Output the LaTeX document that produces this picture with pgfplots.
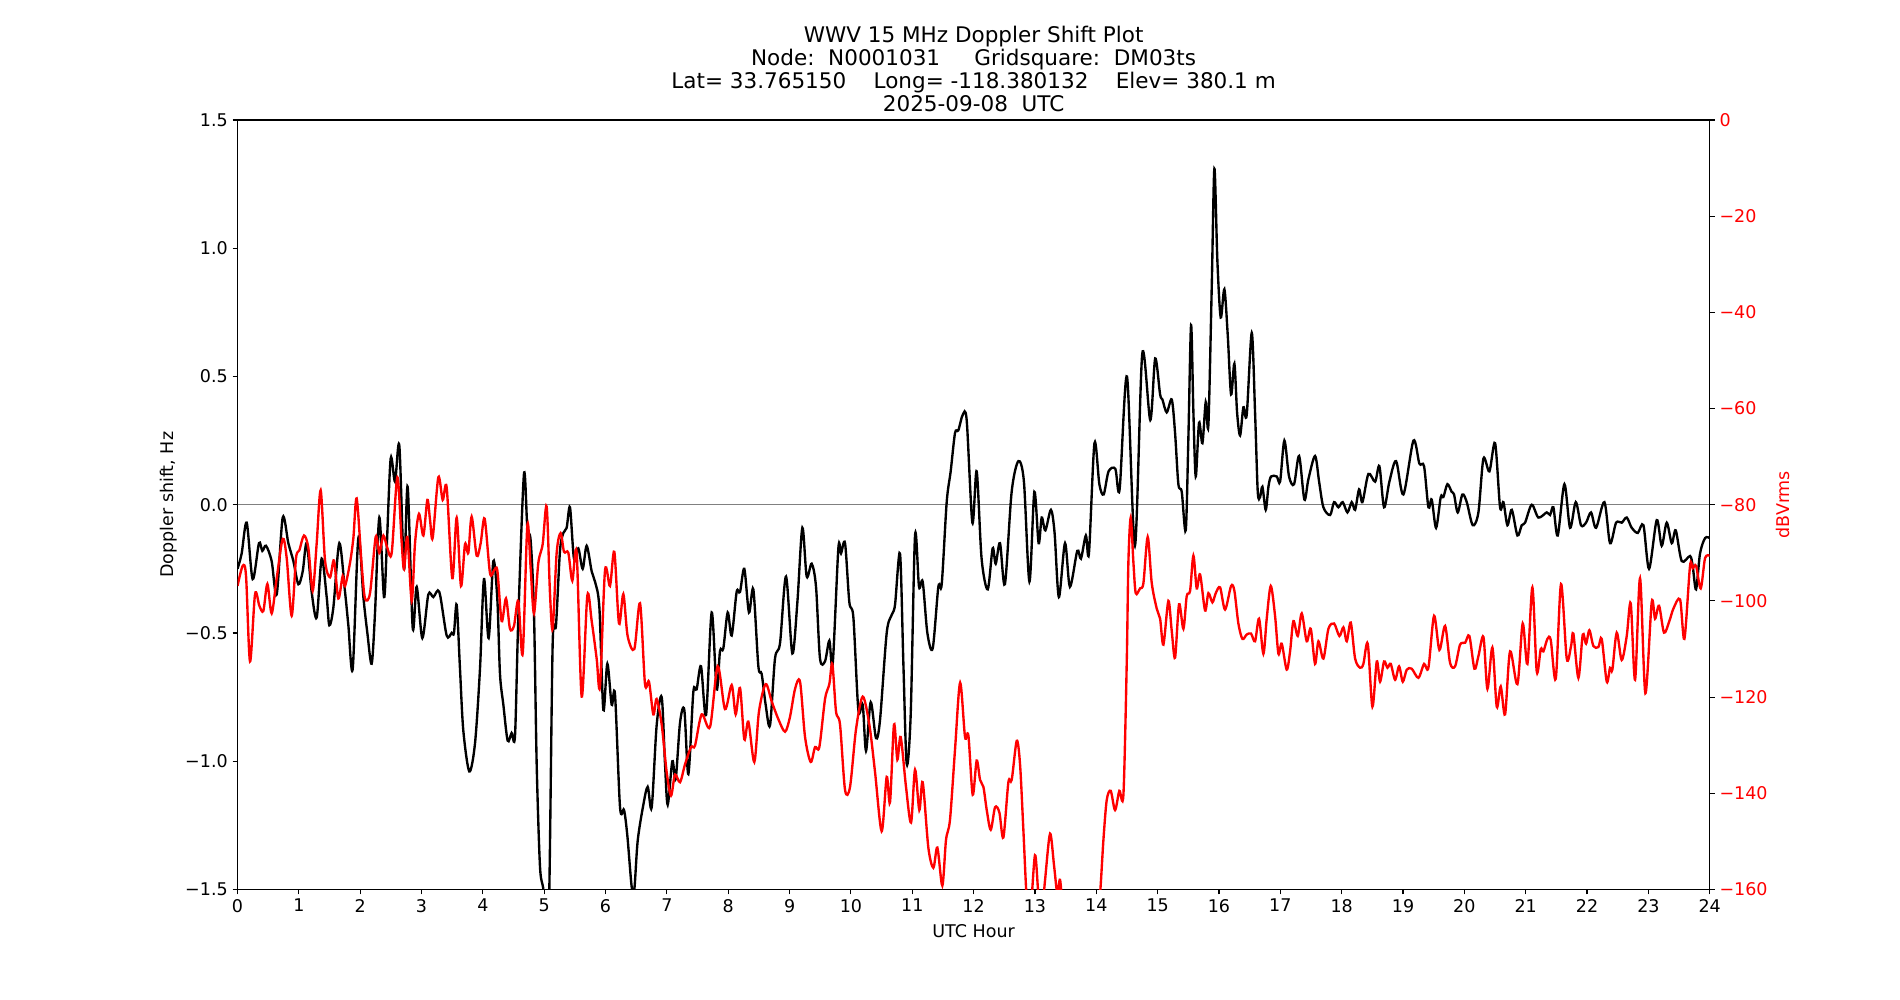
\documentclass[border=0pt]{standalone}
\usepackage{fontspec}
\setmainfont{DejaVu Sans}
\usepackage{pgfplots}
\pgfplotsset{compat=1.18}
\begin{document}
\begin{tikzpicture}
\path[use as bounding box] (0,0) rectangle (1368pt,720pt);
\begin{axis}[
  at={(171pt,79.6pt)}, anchor=south west,
  scale only axis, width=1060pt, height=554pt,
  xmin=0, xmax=24, ymin=-1.5, ymax=1.5,
  xtick={0,1,...,24}, ytick={-1.5,-1,-0.5,0,0.5,1,1.5},
  yticklabels={−1.5,−1.0,−0.5,0.0,0.5,1.0,1.5},
  /pgf/number format/assume math mode=true,
  tick align=outside, major tick length=3.5pt,
  xtick pos=bottom, ytick pos=left,
  axis line style={line width=0.8pt},
  every tick/.style={black, line width=0.8pt},
  tick label style={font=\fontsize{12.6}{15}\selectfont},
  xlabel={UTC Hour}, ylabel={Doppler shift, Hz},
  label style={font=\fontsize{12.6}{15}\selectfont},
  xlabel style={at={(axis description cs:0.5,-0.0536)}, anchor=center},
  ylabel style={at={(axis description cs:-0.0465,0.5)}, anchor=center},
  title={WWV 15 MHz Doppler Shift Plot\\Node:~~N0001031~~~~~Gridsquare:~~DM03ts\\Lat=~33.765150~~~~Long=~-118.380132~~~~Elev=~380.1~m\\2025-09-08~~UTC},
  title style={at={(axis description cs:0.5,1)}, anchor=south, yshift=-0.3pt, inner sep=0pt, align=center, font=\fontsize{15.5}{16.6}\selectfont},
]
\addplot[gray, line width=0.72pt] coordinates {(0,0) (24,0)};
\addplot[black, line width=1.7pt, smooth, tension=0.5] coordinates {
(0.00,-0.25) (0.068,-0.19) (0.15,-0.07) (0.247,-0.29) (0.35,-0.15) (0.405,-0.18) (0.465,-0.16) (0.557,-0.22) (0.639,-0.35) (0.737,-0.05)
(0.829,-0.15) (0.911,-0.22) (0.992,-0.31) (1.063,-0.26) (1.128,-0.15) (1.209,-0.34) (1.291,-0.44) (1.372,-0.21) (1.454,-0.36) (1.497,-0.47)
(1.563,-0.40) (1.66,-0.15) (1.753,-0.34) (1.807,-0.47) (1.878,-0.64) (1.97,-0.13) (2.052,-0.36) (2.117,-0.50) (2.187,-0.62) (2.242,-0.42)
(2.312,-0.05) (2.388,-0.36) (2.432,-0.17) (2.497,0.18) (2.568,0.09) (2.638,0.23) (2.715,-0.25) (2.774,0.07) (2.856,-0.48) (2.921,-0.32)
(3.013,-0.52) (3.111,-0.35) (3.192,-0.36) (3.29,-0.34) (3.41,-0.51) (3.491,-0.50) (3.529,-0.50) (3.573,-0.39) (3.627,-0.64) (3.681,-0.88)
(3.779,-1.04) (3.872,-0.93) (3.953,-0.64) (4.018,-0.29) (4.094,-0.52) (4.171,-0.22) (4.236,-0.37) (4.279,-0.66) (4.334,-0.78) (4.404,-0.92)
(4.469,-0.89) (4.524,-0.90) (4.578,-0.44) (4.67,0.12) (4.725,-0.09) (4.779,-0.14) (4.833,-0.42) (4.877,-1.01) (4.931,-1.41) (4.986,-1.50)
(5.04,-1.65) (5.083,-1.5) (5.138,-0.54) (5.192,-0.47) (5.257,-0.18) (5.312,-0.11) (5.366,-0.09) (5.42,-0.01) (5.485,-0.21) (5.556,-0.17)
(5.627,-0.25) (5.692,-0.16) (5.774,-0.26) (5.828,-0.30) (5.899,-0.40) (5.964,-0.80) (6.029,-0.62) (6.1,-0.78) (6.154,-0.74) (6.236,-1.18)
(6.301,-1.19) (6.355,-1.29) (6.426,-1.49) (6.469,-1.50) (6.524,-1.31) (6.616,-1.17) (6.687,-1.10) (6.752,-1.18) (6.833,-0.86) (6.915,-0.75)
(6.969,-1.01) (7.013,-1.17) (7.089,-1.00) (7.143,-1.07) (7.214,-0.85) (7.284,-0.80) (7.35,-1.05) (7.431,-0.73) (7.485,-0.72) (7.556,-0.63)
(7.638,-0.82) (7.73,-0.42) (7.811,-0.72) (7.866,-0.57) (7.92,-0.56) (7.991,-0.42) (8.056,-0.51) (8.137,-0.34) (8.192,-0.34) (8.262,-0.25)
(8.338,-0.42) (8.409,-0.33) (8.491,-0.63) (8.545,-0.66) (8.61,-0.78) (8.681,-0.86) (8.762,-0.60) (8.844,-0.54) (8.942,-0.28) (9.045,-0.58)
(9.127,-0.38) (9.208,-0.09) (9.279,-0.28) (9.36,-0.23) (9.431,-0.32) (9.496,-0.60) (9.578,-0.61) (9.648,-0.53) (9.703,-0.62) (9.795,-0.17)
(9.838,-0.19) (9.904,-0.15) (9.974,-0.38) (10.04,-0.44) (10.121,-0.80) (10.192,-0.78) (10.246,-0.96) (10.322,-0.77) (10.409,-0.91) (10.474,-0.84)
(10.583,-0.50) (10.664,-0.43) (10.719,-0.39) (10.8,-0.19) (10.855,-0.62) (10.909,-1.01) (10.974,-0.82) (11.045,-0.12) (11.11,-0.32) (11.17,-0.30)
(11.246,-0.50) (11.333,-0.56) (11.425,-0.32) (11.48,-0.31) (11.561,0.01) (11.626,0.13) (11.697,0.28) (11.751,0.29) (11.822,0.35) (11.887,0.33)
(11.98,-0.07) (12.05,0.13) (12.13,-0.21) (12.23,-0.33) (12.31,-0.17) (12.36,-0.23) (12.43,-0.15) (12.51,-0.31) (12.62,0.05) (12.73,0.17)
(12.82,0.09) (12.91,-0.30) (12.99,0.05) (13.06,-0.15) (13.11,-0.05) (13.17,-0.10) (13.26,-0.02) (13.32,-0.11) (13.39,-0.36) (13.49,-0.15)
(13.57,-0.32) (13.69,-0.18) (13.75,-0.21) (13.83,-0.12) (13.88,-0.19) (13.97,0.24) (14.05,0.08) (14.12,0.04) (14.2,0.13) (14.31,0.14)
(14.38,0.06) (14.5,0.50) (14.63,-0.16) (14.75,0.59) (14.88,0.33) (14.96,0.57) (15.04,0.43) (15.078,0.41) (15.148,0.36) (15.23,0.41)
(15.284,0.28) (15.338,0.08) (15.393,0.05) (15.458,-0.10) (15.501,0.26) (15.545,0.70) (15.583,0.36) (15.621,0.11) (15.675,0.32) (15.73,0.24)
(15.784,0.40) (15.827,0.31) (15.882,0.85) (15.925,1.31) (15.974,0.95) (16.028,0.73) (16.088,0.84) (16.143,0.66) (16.197,0.43) (16.251,0.55)
(16.295,0.36) (16.344,0.27) (16.398,0.38) (16.452,0.35) (16.534,0.67) (16.588,0.36) (16.632,0.05) (16.67,0.03) (16.708,0.07) (16.762,-0.02)
(16.806,0.07) (16.849,0.11) (16.941,0.11) (16.996,0.09) (17.066,0.25) (17.142,0.11) (17.224,0.08) (17.306,0.19) (17.392,0.02) (17.458,0.10)
(17.566,0.19) (17.632,0.09) (17.702,-0.01) (17.811,-0.04) (17.876,0.01) (17.947,-0.01) (18.017,0.01) (18.094,-0.03) (18.164,0.01) (18.219,-0.02)
(18.284,0.06) (18.338,0.01) (18.436,0.12) (18.545,0.09) (18.615,0.15) (18.691,-0.01) (18.778,0.09) (18.887,0.17) (19.006,0.04) (19.17,0.25)
(19.267,0.16) (19.343,0.15) (19.414,-0.01) (19.468,0.02) (19.539,-0.09) (19.615,0.03) (19.658,0.03) (19.724,0.08) (19.794,0.05) (19.832,0.04)
(19.892,-0.03) (19.968,0.04) (20.039,0.01) (20.137,-0.08) (20.229,-0.03) (20.311,0.18) (20.408,0.13) (20.501,0.24) (20.582,-0.01) (20.637,0.01)
(20.702,-0.08) (20.773,-0.02) (20.865,-0.12) (20.935,-0.08) (20.99,-0.07) (21.098,0.0) (21.207,-0.05) (21.343,-0.03) (21.397,-0.04) (21.451,-0.01)
(21.522,-0.12) (21.631,0.08) (21.723,-0.09) (21.816,0.01) (21.902,-0.08) (21.984,-0.07) (22.065,-0.03) (22.147,-0.09) (22.283,0.01) (22.375,-0.15)
(22.473,-0.07) (22.565,-0.07) (22.647,-0.05) (22.728,-0.09) (22.826,-0.11) (22.919,-0.08) (23.011,-0.25) (23.136,-0.06) (23.217,-0.16) (23.299,-0.07)
(23.381,-0.15) (23.446,-0.10) (23.544,-0.22) (23.679,-0.20) (23.723,-0.24) (23.777,-0.33) (23.842,-0.19) (23.924,-0.13) (24.0,-0.13)
};
\end{axis}
\begin{axis}[
  at={(171pt,79.6pt)}, anchor=south west,
  scale only axis, width=1060pt, height=554pt,
  xmin=0, xmax=24, ymin=-160, ymax=0,
  axis x line=none, axis y line*=right,
  ytick={-160,-140,...,0},
  yticklabels={−160,−140,−120,−100,−80,−60,−40,−20,0},
  tick align=outside, major tick length=3.5pt,
  axis line style={line width=0.8pt},
  every tick/.style={black, line width=0.8pt},
  tick label style={font=\fontsize{12.6}{15}\selectfont, red},
  ylabel={dBVrms},
  ylabel style={at={(axis description cs:1.05,0.5)}, anchor=center, red, font=\fontsize{12.6}{15}\selectfont},
]
\addplot[red, line width=1.7pt, smooth, tension=0.5] coordinates {
(0.00,-96.9) (0.085,-92.7) (0.139,-94.8) (0.204,-112.6) (0.286,-98.6) (0.356,-101) (0.421,-102.1) (0.487,-96.5) (0.557,-102.6) (0.639,-95.3)
(0.737,-87.1) (0.802,-91.1) (0.883,-103.1) (0.954,-91.1) (1.008,-89.5) (1.084,-86.4) (1.155,-89) (1.226,-97.9) (1.291,-88) (1.356,-77)
(1.427,-91.6) (1.508,-95.1) (1.573,-91.6) (1.644,-99.5) (1.715,-94.8) (1.753,-96.9) (1.834,-92.1) (1.889,-86.9) (1.943,-78.7) (2.025,-92.7)
(2.079,-99.5) (2.16,-98.4) (2.253,-86.7) (2.312,-90) (2.378,-86.4) (2.443,-89) (2.514,-90) (2.606,-74.3) (2.677,-88) (2.715,-93.4)
(2.769,-86.7) (2.84,-100) (2.894,-88) (2.959,-81.9) (3.03,-86.4) (3.095,-79) (3.139,-83.2) (3.182,-86.9) (3.274,-74.3) (3.345,-79)
(3.41,-76.4) (3.502,-95.3) (3.573,-82.7) (3.643,-96.9) (3.709,-88.2) (3.763,-90) (3.817,-82.5) (3.899,-90.6) (3.964,-88) (4.029,-82.9)
(4.116,-94.2) (4.181,-93.7) (4.236,-93.7) (4.306,-104.2) (4.377,-99.5) (4.442,-105.8) (4.507,-105.2) (4.578,-100) (4.649,-111) (4.725,-84.3)
(4.779,-93.2) (4.833,-102.6) (4.904,-92.1) (4.975,-88.2) (5.04,-80.4) (5.094,-98.4) (5.138,-105.8) (5.203,-90) (5.268,-85.9) (5.323,-89.8)
(5.393,-90) (5.458,-95.8) (5.529,-90) (5.611,-119.9) (5.703,-98.9) (5.774,-104.2) (5.855,-112) (5.909,-117.8) (5.991,-93.7) (6.072,-96.9)
(6.143,-89.8) (6.219,-104.7) (6.29,-98.6) (6.36,-107.3) (6.469,-110) (6.562,-100.5) (6.643,-117.3) (6.708,-116.8) (6.779,-123.6) (6.833,-120.4)
(6.915,-125.7) (6.996,-135.6) (7.067,-140.5) (7.132,-136.1) (7.214,-137.7) (7.295,-134) (7.393,-130.4) (7.458,-130.1) (7.567,-123.6) (7.703,-126.2)
(7.828,-113.6) (7.947,-122.5) (8.056,-117.5) (8.121,-123.6) (8.192,-118.1) (8.262,-128.8) (8.328,-125.1) (8.425,-133.5) (8.501,-123) (8.61,-117.3)
(8.708,-120.9) (8.817,-124.6) (8.926,-127.2) (9.007,-124.1) (9.089,-118.3) (9.17,-116.8) (9.252,-128.3) (9.344,-133.5) (9.415,-130.4) (9.485,-130.4)
(9.578,-120.4) (9.648,-117.3) (9.697,-113.1) (9.757,-123) (9.822,-125.7) (9.904,-139.3) (9.985,-138.7) (10.083,-126.7) (10.192,-119.9) (10.3,-125.7)
(10.393,-135.6) (10.501,-147.9) (10.583,-136.6) (10.637,-141.9) (10.702,-125.7) (10.757,-133) (10.811,-128.3) (10.898,-138.7) (10.98,-146.1) (11.045,-135.1)
(11.115,-143.5) (11.17,-137.7) (11.262,-151.3) (11.344,-155.5) (11.409,-151.3) (11.49,-159.2) (11.55,-149.7) (11.615,-145.5) (11.697,-130.9) (11.78,-117)
(11.86,-128.3) (11.915,-128) (11.985,-140.3) (12.05,-133.2) (12.105,-137.2) (12.16,-138.7) (12.214,-143.5) (12.279,-147.6) (12.35,-142.9) (12.42,-144)
(12.485,-149.2) (12.567,-137.7) (12.621,-137.2) (12.703,-129.1) (12.757,-134) (12.811,-147.6) (12.866,-162) (12.92,-166) (13.0,-152.9) (13.056,-161)
(13.11,-165) (13.165,-158) (13.246,-148.4) (13.311,-155) (13.366,-161) (13.409,-158) (13.464,-165) (13.57,-172) (13.735,-175) (13.9,-172)
(14.007,-166) (14.061,-161) (14.116,-149.7) (14.17,-141.4) (14.235,-139.5) (14.306,-143.5) (14.376,-139.5) (14.442,-140.3) (14.496,-113) (14.523,-92)
(14.561,-82.7) (14.605,-92) (14.643,-98.4) (14.713,-97.4) (14.768,-96.3) (14.838,-86.7) (14.904,-96.3) (14.985,-101.6) (15.04,-103.7) (15.094,-109.1)
(15.175,-100) (15.23,-106.3) (15.284,-111.8) (15.349,-100.7) (15.42,-105.8) (15.474,-99) (15.529,-97.9) (15.583,-90.6) (15.637,-97.4) (15.692,-94.5)
(15.773,-102) (15.827,-98.4) (15.893,-100.3) (15.947,-98.4) (16.018,-97.2) (16.099,-101.8) (16.197,-96.9) (16.251,-97.9) (16.316,-104.7) (16.382,-107.9)
(16.452,-107) (16.523,-106.8) (16.588,-108.4) (16.653,-103.7) (16.724,-111) (16.778,-103.7) (16.844,-96.9) (16.914,-103.1) (16.969,-111) (17.023,-108.9)
(17.104,-114.3) (17.159,-110.5) (17.213,-104.2) (17.284,-107.3) (17.349,-102.6) (17.43,-108.4) (17.496,-105.8) (17.566,-113.1) (17.621,-108.4) (17.702,-112)
(17.784,-105.8) (17.876,-104.7) (17.963,-107.3) (18.028,-105.5) (18.083,-108.4) (18.148,-104.5) (18.219,-112) (18.3,-113.9) (18.354,-113.1) (18.425,-108.9)
(18.501,-122) (18.572,-112.6) (18.626,-116.8) (18.691,-112.6) (18.746,-113.9) (18.8,-113.1) (18.871,-116.4) (18.936,-113.6) (18.996,-116.8) (19.061,-114.3)
(19.142,-114.1) (19.251,-116) (19.343,-113.1) (19.414,-113.9) (19.506,-103.1) (19.593,-110.2) (19.686,-105.2) (19.767,-112.9) (19.849,-113.6) (19.93,-109.1)
(20.012,-108.7) (20.082,-107.3) (20.164,-114.1) (20.229,-111.5) (20.311,-107.5) (20.376,-118.3) (20.457,-109.7) (20.528,-122) (20.593,-117.8) (20.664,-123.6)
(20.745,-110.5) (20.865,-117.3) (20.951,-104.7) (21.028,-113.1) (21.109,-97.2) (21.18,-114.7) (21.245,-110) (21.288,-110.5) (21.354,-107.9) (21.408,-108.1)
(21.49,-116.2) (21.576,-96.5) (21.669,-112) (21.739,-109.4) (21.777,-106.8) (21.859,-116) (21.93,-107) (21.984,-108.9) (22.038,-106.1) (22.104,-109.4)
(22.185,-109.6) (22.239,-107.9) (22.321,-116.8) (22.375,-113.9) (22.413,-114.3) (22.484,-106.6) (22.565,-112.3) (22.647,-107.3) (22.712,-100.5) (22.783,-116.4)
(22.864,-95.3) (22.951,-119.2) (23.054,-100.3) (23.109,-103.7) (23.174,-101) (23.255,-106.6) (23.342,-104.2) (23.408,-101.6) (23.516,-99.7) (23.587,-107.9)
(23.679,-92.7) (23.723,-93.2) (23.777,-92.7) (23.853,-97.4) (23.924,-91.1) (24.0,-90.6)
};
\end{axis}
\end{tikzpicture}
\end{document}
